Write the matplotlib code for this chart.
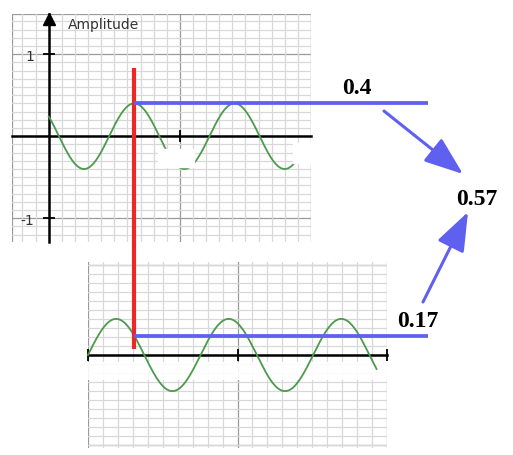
import numpy as np
import matplotlib
matplotlib.use("Agg")
import matplotlib.pyplot as plt
from matplotlib.patches import FancyArrowPatch, Rectangle, ArrowStyle
from matplotlib.ticker import MultipleLocator, FixedLocator

# ---------------- data ----------------
# top wave: amplitude, period, time of the peak used for sampling
top_amp = 0.4
top_period = 0.765
top_peak_t = 0.652
top_t_end = 1.88
# bottom wave: amplitude, period
bot_amp = 0.4
bot_period = 0.753
bot_t_end = 1.93
# labels
top_value_label = "0.4"
bot_value_label = "0.17"
sum_label = "0.57"
y_tick_vals = [-1, 1]
y_tick_labels = ["-1", "1"]
y_axis_title = "Amplitude"

W, H = 513, 456
fig = plt.figure(figsize=(W / 100, H / 100), dpi=100)
fig.patch.set_facecolor("white")

GREEN = "#4c9a4c"
RED = "#eb2828"
BLUE = "#5f5ff0"
MINOR = "#d8d8d8"
MAJOR = "#9a9a9a"


def px_axes(left, top, right, bottom):
    return fig.add_axes([left / W, 1 - bottom / H, (right - left) / W, (bottom - top) / H])


def grid_setup(ax, xmaj, ymaj):
    ax.xaxis.set_minor_locator(MultipleLocator(0.1))
    ax.yaxis.set_minor_locator(MultipleLocator(0.1))
    ax.grid(which="minor", color=MINOR, lw=0.9, zorder=0)
    for v in xmaj:
        ax.axvline(v, color=MAJOR, lw=0.9, zorder=0.5)
    for v in ymaj:
        ax.axhline(v, color=MAJOR, lw=0.9, zorder=0.5)
    ax.set_axisbelow(True)


# ---------------- top panel ----------------
ax1 = px_axes(12, 15, 311, 243)
ax1.set_xlim(-0.28, 2.0)
ax1.set_ylim(-1.29, 1.49)
grid_setup(ax1, [-0.28, 1, 2], [1, -1, 1.49])
for s in ["top", "right"]:
    ax1.spines[s].set_visible(False)
ax1.spines["left"].set_position(("data", 0))
ax1.spines["bottom"].set_position(("data", 0))
for s in ["left", "bottom"]:
    ax1.spines[s].set_linewidth(1.8)
    ax1.spines[s].set_color("black")
ax1.yaxis.set_major_locator(FixedLocator(y_tick_vals))
ax1.set_yticklabels(y_tick_labels)
ax1.xaxis.set_major_locator(FixedLocator([1]))
ax1.set_xticklabels([""])
ax1.tick_params(which="major", direction="inout", length=8, width=1.3, color="black",
                labelsize=10, labelcolor="#333333", pad=6)
ax1.tick_params(which="minor", length=0)
ax1.tick_params(axis="y", which="major", length=9)
ax1.plot(0, 1.43, marker="^", ms=8, color="black", clip_on=False, zorder=5)
ax1.text(0.15, 1.366, y_axis_title, ha="left", va="center", fontsize=10,
         color="#333333", family="DejaVu Sans")

t1 = np.linspace(0, top_t_end, 600)
w1 = top_amp * np.cos(2 * np.pi * (t1 - top_peak_t) / top_period)
ax1.plot(t1, w1, color=GREEN, lw=1.3, zorder=3)
# erased label patches
ax1.add_patch(Rectangle((0.83, -0.38), 0.28, 0.22, color="white", zorder=4))
ax1.add_patch(Rectangle((1.86, -0.33), 0.16, 0.25, color="white", zorder=4, clip_on=False))

# ---------------- bottom panel ----------------
ax2 = px_axes(88, 263, 387, 449)
ax2.set_xlim(0, 2)
ax2.set_ylim(-1.03, 1.03)
grid_setup(ax2, [0, 1, 2], [1, -1])
for s in ["top", "right", "left"]:
    ax2.spines[s].set_visible(False)
ax2.spines["bottom"].set_position(("data", 0))
ax2.spines["bottom"].set_linewidth(1.8)
ax2.spines["bottom"].set_color("black")
ax2.xaxis.set_major_locator(FixedLocator([0, 1, 2]))
ax2.set_xticklabels(["", "", ""])
ax2.set_yticks([])
ax2.tick_params(which="major", direction="inout", length=8, width=1.3, color="black")
ax2.tick_params(which="minor", length=0)
t2 = np.linspace(0, bot_t_end, 600)
w2 = bot_amp * np.sin(2 * np.pi * t2 / bot_period)
ax2.plot(t2, w2, color=GREEN, lw=1.3, zorder=3, clip_on=False)
ax2.add_patch(Rectangle((-0.01, -0.28), 2.05, 0.2, color="white", alpha=0.9, zorder=1.5,
                        clip_on=False, lw=0))

# ---------------- overlay: sampling lines, arrows, labels ----------------
ov = fig.add_axes([0, 0, 1, 1], zorder=10)
ov.set_xlim(0, W)
ov.set_ylim(H, 0)
ov.axis("off")
ov.patch.set_alpha(0)


def to_px(ax, x, y):
    dx, dy = ax.transData.transform((x, y))
    return dx, H - dy


# sample point on top wave
red_x, top_y = to_px(ax1, top_peak_t, top_amp)
_, red_top = to_px(ax1, top_peak_t, 0.83)
# same instant on bottom panel
t_b = ax2.transData.inverted().transform(ax1.transData.transform((top_peak_t, 0)))[0]
bot_val = bot_amp * np.sin(2 * np.pi * t_b / bot_period)
_, bot_y = to_px(ax2, t_b, bot_val)
_, red_bot = to_px(ax2, t_b, 0.07)

line_end = 428
ov.plot([red_x, red_x], [red_top, red_bot], color=RED, lw=3.0, solid_capstyle="butt")
ov.plot([red_x, line_end], [top_y, top_y], color=BLUE, lw=2.7, solid_capstyle="butt")
ov.plot([red_x, line_end], [bot_y, bot_y], color=BLUE, lw=2.7, solid_capstyle="butt")

style = ArrowStyle("-|>", head_length=2.4, head_width=0.9)
for (x0, y0), (x1, y1) in [((384, 112), (463, 175)), ((423, 303), (468, 213))]:
    ov.add_patch(FancyArrowPatch((x0, y0), (x1, y1), arrowstyle=style, mutation_scale=10,
                                 color=BLUE, lw=2.2, shrinkA=0, shrinkB=0))

tfont = dict(family="Liberation Serif", fontweight="bold", fontsize=17, color="black")
ov.text(357, 94, top_value_label, ha="center", va="baseline", **tfont)
ov.text(418, 327, bot_value_label, ha="center", va="baseline", **tfont)
ov.text(477, 205, sum_label, ha="center", va="baseline", **tfont)

fig.savefig("out.png", dpi=100)
